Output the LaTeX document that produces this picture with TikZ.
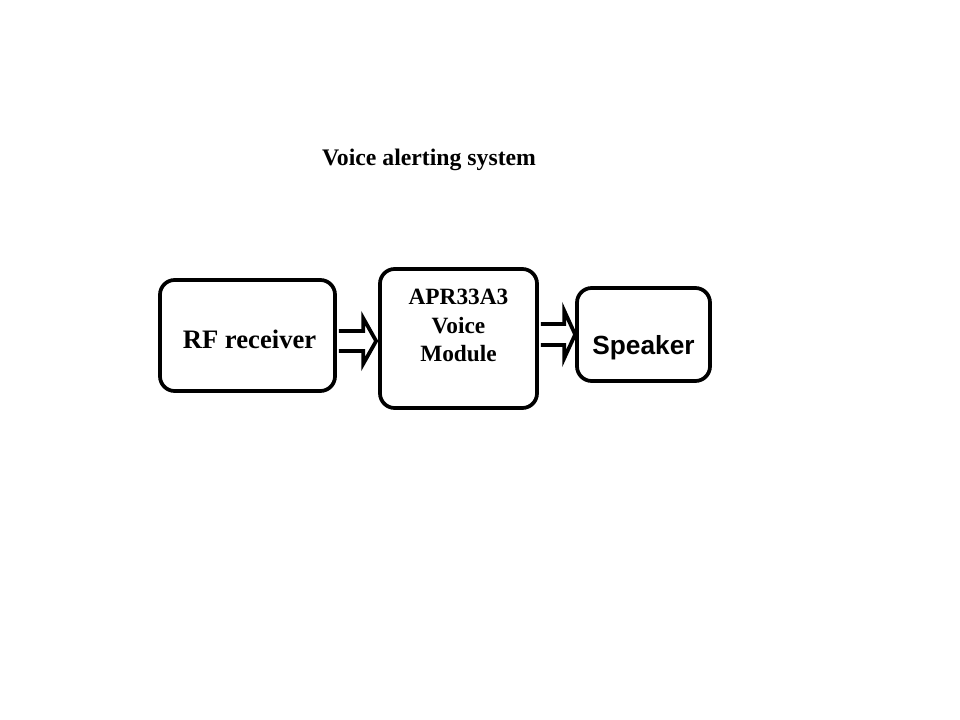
\documentclass[tikz,border=0pt]{standalone}
\usepackage{fontspec}
\setmainfont{Liberation Serif}
\newfontfamily\arialfont{Liberation Sans}
\usetikzlibrary{calc}
\begin{document}
\begin{tikzpicture}[x=0.75pt,y=-0.75pt,
  blockbox/.style={draw,line width=2.8pt,rounded corners=11pt,inner sep=0pt},
  blockarrow/.style={draw,line width=2.8pt,fill=white,line join=miter,miter limit=10},
  lbl/.style={font=\bfseries,inner sep=0pt,align=center}]
\useasboundingbox (0,0) rectangle (960,720);
\node[lbl,font=\bfseries\fontsize{17.8}{21}\selectfont] (title) at (429,159.5) {Voice alerting system};
\node[blockbox,minimum width=131.25pt,minimum height=83.25pt] (rf) at (247.5,335.5) {};
\node[blockbox,minimum width=117.75pt,minimum height=104.25pt] (apr) at (458.5,338.5) {};
\node[blockbox,minimum width=99.75pt,minimum height=69.75pt] (spk) at (643.5,334.5) {};
\node[lbl,font=\bfseries\fontsize{20}{24}\selectfont] (rft) at ($(rf.center)+(2,4)$) {RF receiver};
\node[lbl,font=\bfseries\fontsize{17.5}{21.3}\selectfont] (aprt) at ($(apr.center)+(0,-13)$) {APR33A3\\Voice\\Module};
\node[lbl,font=\arialfont\bfseries\fontsize{19.7}{23}\selectfont] (spkt) at ($(spk.center)+(0,13.5)$) {Speaker};
\coordinate (s1) at ($(rf.east)+(2,5.5)$);
\coordinate (t1) at ($(apr.west)+(-2,2.5)$);
\draw[blockarrow] ($(s1)+(0,-10)$) -- ($(t1)+(-13,-10)$) -- ($(t1)+(-13,-23)$) -- (t1)
  -- ($(t1)+(-13,23)$) -- ($(t1)+(-13,10)$) -- ($(s1)+(0,10)$);
\coordinate (s2) at ($(apr.east)+(2,-4)$);
\coordinate (t2) at ($(spk.west)+(0,0)$);
\draw[blockarrow] ($(s2)+(0,-10.5)$) -- ($(t2)+(-11,-10.5)$) -- ($(t2)+(-11,-24)$) -- (t2)
  -- ($(t2)+(-11,24)$) -- ($(t2)+(-11,10.5)$) -- ($(s2)+(0,10.5)$);
\end{tikzpicture}
\end{document}
